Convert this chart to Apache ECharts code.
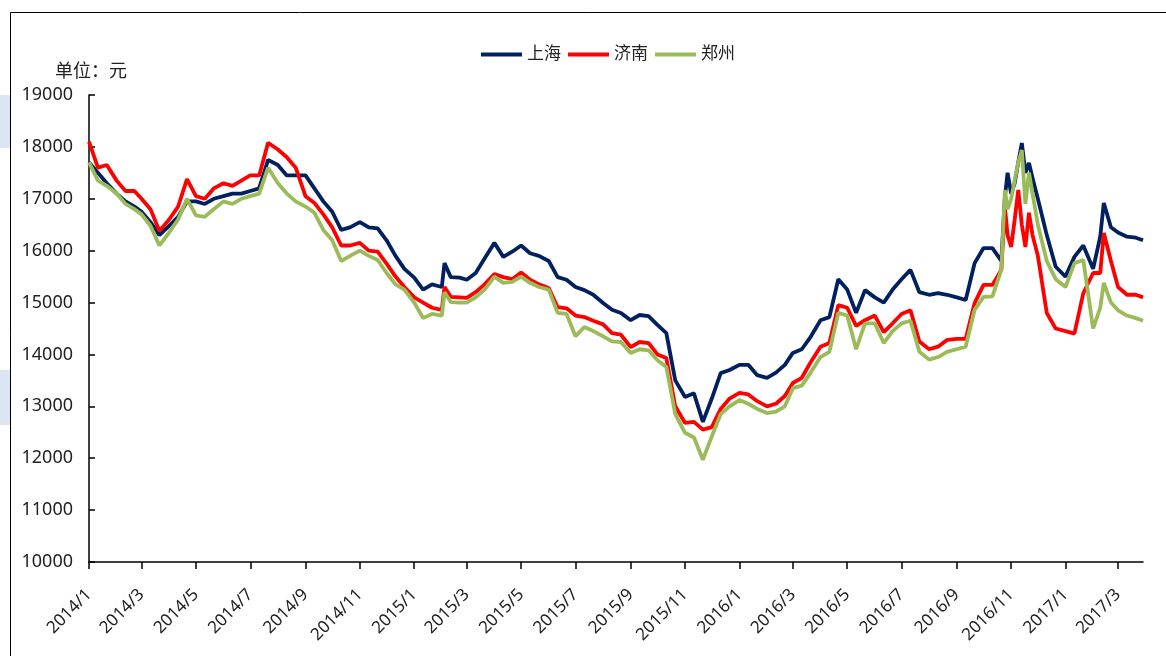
<!DOCTYPE html>
<html>
<head>
<meta charset="utf-8">
<script src="https://cdn.jsdelivr.net/npm/echarts@6/dist/echarts.min.js"></script>
<style>
html,body{margin:0;padding:0;background:#fff;}
#chart{width:1166px;height:656px;}
</style>
</head>
<body>
<div id="chart"></div>
<script>
var seriesNames = ['上海', '济南', '郑州'];
var unitLabel = '单位：元';
var dates = [
'2014-01-01','2014-01-11','2014-01-21','2014-02-01','2014-02-11','2014-02-21','2014-03-01','2014-03-11','2014-03-21',
'2014-04-01','2014-04-11','2014-04-21','2014-05-01','2014-05-11','2014-05-21','2014-06-01','2014-06-11','2014-06-21',
'2014-07-01','2014-07-11','2014-07-21','2014-08-01','2014-08-11','2014-08-21','2014-09-01','2014-09-11','2014-09-21',
'2014-10-01','2014-10-11','2014-10-21','2014-11-01','2014-11-11','2014-11-21','2014-12-01','2014-12-11','2014-12-21',
'2015-01-01','2015-01-11','2015-01-21','2015-02-01','2015-02-04','2015-02-11','2015-02-21','2015-03-01','2015-03-11','2015-03-21',
'2015-04-01','2015-04-11','2015-04-21','2015-05-01','2015-05-11','2015-05-21','2015-06-01','2015-06-11','2015-06-21',
'2015-07-01','2015-07-11','2015-07-21','2015-08-01','2015-08-11','2015-08-21','2015-09-01','2015-09-11','2015-09-21',
'2015-10-01','2015-10-11','2015-10-21','2015-11-01','2015-11-11','2015-11-21','2015-12-01','2015-12-11','2015-12-21',
'2016-01-01','2016-01-11','2016-01-21','2016-02-01','2016-02-11','2016-02-21','2016-03-01','2016-03-11','2016-03-21',
'2016-04-01','2016-04-11','2016-04-21','2016-05-01','2016-05-11','2016-05-21','2016-06-01','2016-06-11','2016-06-21',
'2016-07-01','2016-07-11','2016-07-21','2016-08-01','2016-08-11','2016-08-21','2016-09-01','2016-09-11','2016-09-21',
'2016-10-01','2016-10-11','2016-10-21','2016-10-25','2016-10-28','2016-11-01','2016-11-05','2016-11-09','2016-11-13',
'2016-11-17','2016-11-21','2016-11-25','2016-12-01','2016-12-11','2016-12-21',
'2017-01-01','2017-01-11','2017-01-21','2017-02-01','2017-02-09','2017-02-13','2017-02-21',
'2017-03-01','2017-03-11','2017-03-21','2017-03-29'
];
var shanghai = [
17700,17500,17300,17100,16950,16850,16750,16550,16300,
16480,16650,16950,16950,16900,17000,17050,17100,17100,
17150,17200,17750,17650,17450,17450,17450,17200,16950,
16750,16400,16450,16550,16450,16430,16200,15900,15650,
15480,15250,15350,15300,15760,15490,15480,15440,15570,15850,
16150,15880,15980,16100,15950,15900,15800,15490,15440,
15300,15240,15150,14990,14860,14800,14660,14760,14740,
14570,14410,13500,13180,13250,12700,13150,13640,13700,
13800,13800,13600,13550,13650,13800,14030,14100,14340,
14660,14720,15450,15250,14800,15240,15100,15000,15250,
15450,15630,15200,15150,15180,15150,15100,15050,15760,
16050,16050,15800,17035,17500,17100,17300,17700,18075,
17500,17690,17400,17000,16300,15690,
15500,15880,16100,15650,16270,16920,16450,
16350,16270,16250,16200
];
var jinan = [
18100,17600,17650,17350,17150,17150,17000,16800,16380,
16600,16850,17380,17050,17000,17200,17300,17250,17350,
17450,17450,18080,17950,17800,17600,17050,16920,16700,
16450,16100,16100,16150,16000,15980,15750,15500,15300,
15100,15000,14900,14860,15300,15110,15100,15090,15200,15350,
15550,15490,15450,15580,15440,15350,15280,14910,14890,
14750,14720,14650,14580,14410,14380,14140,14240,14220,
14000,13930,13000,12680,12700,12550,12600,12950,13150,
13260,13230,13100,13000,13050,13200,13450,13550,13850,
14150,14220,14950,14900,14550,14660,14750,14430,14600,
14780,14850,14250,14100,14150,14280,14300,14300,14990,
15340,15340,15630,16840,16300,16070,16600,17170,16500,
16070,16730,16300,15900,14800,14500,
14450,14400,15180,15570,15570,16340,15800,
15300,15150,15150,15100
];
var zhengzhou = [
17700,17350,17250,17100,16900,16800,16700,16480,16100,
16350,16600,17000,16680,16650,16800,16950,16900,17000,
17050,17100,17600,17300,17100,16950,16850,16730,16400,
16200,15800,15900,16000,15900,15820,15570,15350,15250,
15000,14700,14780,14750,15200,15010,15000,15000,15100,15250,
15500,15380,15400,15500,15380,15300,15250,14800,14780,
14350,14530,14450,14350,14250,14240,14030,14100,14080,
13890,13760,12850,12490,12400,11970,12420,12850,13000,
13120,13050,12950,12870,12900,13000,13350,13400,13650,
13950,14050,14800,14750,14100,14600,14600,14220,14450,
14600,14650,14050,13900,13950,14050,14100,14150,14860,
15110,15120,15630,17170,16800,17000,17360,17700,17940,
16900,17500,17100,16500,15800,15450,
15300,15760,15820,14500,14900,15380,15000,
14850,14750,14700,14650
];
var yTicks = {min: 10000, max: 19000, step: 1000};
var xRange = {min: '2014-01-01', max: '2017-03-29'};
var colors = ['#002060', '#FF0000', '#9BBB59'];

function pairs(vals) {
  return dates.map(function (d, i) { return [d, vals[i]]; });
}

var chart = echarts.init(document.getElementById('chart'), null, {renderer: 'canvas'});
var font = '"Noto Sans", "Noto Sans CJK SC", sans-serif';
var DAY = 86400000;
var option = {
  backgroundColor: '#ffffff',
  animation: false,
  textStyle: {fontFamily: font},
  graphic: [
    {type: 'rect', left: 0, top: 95, shape: {width: 10, height: 53}, style: {fill: '#dce6f2'}, z: 0},
    {type: 'rect', left: 0, top: 370, shape: {width: 10, height: 55}, style: {fill: '#dce6f2'}, z: 0},
    {type: 'rect', shape: {x: 10.5, y: 12.5, width: 1200, height: 700}, style: {fill: 'none', stroke: '#000', lineWidth: 1}, z: 1},
    {type: 'text', left: 55, top: 63, style: {text: unitLabel, font: '18px ' + font, fill: '#222'}, z: 5}
  ],
  legend: {
    left: 476, top: 41,
    itemWidth: 41, itemHeight: 4, itemGap: 7,
    icon: 'rect',
    textStyle: {fontSize: 17, color: '#222', fontFamily: font},
    data: seriesNames
  },
  grid: {left: 89, right: 23, top: 95, bottom: 94, containLabel: false},
  xAxis: {
    type: 'time',
    min: xRange.min, max: xRange.max,
    minInterval: 64 * DAY, maxInterval: 64 * DAY,
    splitNumber: 20,
    axisLine: {lineStyle: {color: '#000', width: 1.5}},
    axisTick: {show: true, inside: false, length: 7, lineStyle: {color: '#000', width: 1.5}},
    splitLine: {show: false},
    axisLabel: {
      rotate: 45, fontSize: 17, color: '#222', margin: 30, fontFamily: font,
      showMaxLabel: false, hideOverlap: false,
      formatter: function (v) { var d = new Date(v); return d.getFullYear() + '/' + (d.getMonth() + 1); }
    }
  },
  yAxis: {
    type: 'value',
    min: yTicks.min, max: yTicks.max, interval: yTicks.step,
    axisLine: {show: true, lineStyle: {color: '#000', width: 1.5}},
    axisTick: {show: true, inside: true, length: 6, lineStyle: {color: '#000', width: 1.5}},
    splitLine: {show: false},
    axisLabel: {fontSize: 18, color: '#222', margin: 16, fontFamily: font, formatter: function (v) { return String(v); }}
  },
  series: [
    {name: seriesNames[0], type: 'line', data: pairs(shanghai), showSymbol: false, symbol: 'none', lineStyle: {width: 3.8, color: colors[0]}, itemStyle: {color: colors[0]}, z: 2},
    {name: seriesNames[1], type: 'line', data: pairs(jinan), showSymbol: false, symbol: 'none', lineStyle: {width: 3.8, color: colors[1]}, itemStyle: {color: colors[1]}, z: 3},
    {name: seriesNames[2], type: 'line', data: pairs(zhengzhou), showSymbol: false, symbol: 'none', lineStyle: {width: 3.8, color: colors[2]}, itemStyle: {color: colors[2]}, z: 4}
  ]
};
chart.setOption(option);
</script>
</body>
</html>
